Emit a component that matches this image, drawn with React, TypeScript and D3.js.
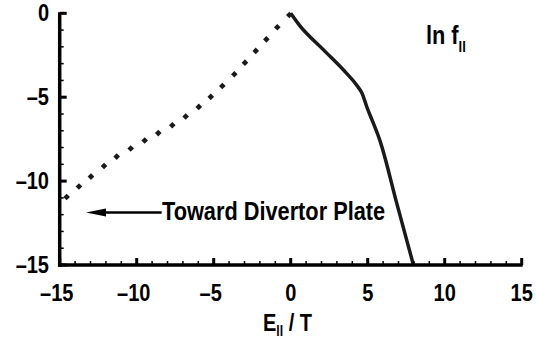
import React, { useEffect, useRef } from 'react';
import * as d3 from 'd3';

// dotted branch (toward divertor plate)
const dotX = [-14.55, -13.75, -12.97, -12.12, -11.3, -10.39, -9.48, -8.6, -7.69, -6.82, -5.97, -5.19, -4.44, -3.66, -2.97, -2.27, -1.58, -0.87, -0.09];
const dotY = [-10.95, -10.32, -9.73, -9.1, -8.54, -8.06, -7.58, -7.14, -6.67, -6.15, -5.58, -4.98, -4.33, -3.63, -2.94, -2.24, -1.55, -0.83, -0.1];

// solid branch
const lineX = [0, 0.6, 2.1, 3.6, 4.3, 4.65, 4.95, 5.3, 5.8, 6.88, 7.97];
const lineY = [0, -0.75, -2.15, -3.55, -4.3, -4.8, -5.6, -6.4, -7.6, -11.3, -15];

const xTicks = [-15, -10, -5, 0, 5, 10, 15];
const yTicks = [0, -5, -10, -15];

const font = '"Liberation Sans", Arial, sans-serif';
const squeeze = 0.87;

export default function App() {
  const ref = useRef<SVGSVGElement>(null);

  useEffect(() => {
    const svg = d3.select(ref.current);
    svg.selectAll('*').remove();

    const x = d3.scaleLinear().domain([-15, 15]).range([59.7, 521.7]);
    const y = d3.scaleLinear().domain([-15, 0]).range([265, 13.3]);

    // narrow bold text: no condensed face installed, so squeeze horizontally
    const label = (px: number, py: number, size: number, anchor = 'start') =>
      svg.append('text')
        .attr('transform', `translate(${px},${py}) scale(${squeeze},1)`)
        .attr('text-anchor', anchor)
        .attr('font-family', font)
        .attr('font-weight', 'bold')
        .attr('font-size', size);

    const g = svg.append('g');

    // dotted curve as diamonds
    const dots = dotX.map((d, i) => [d, dotY[i]]);
    g.selectAll('.dot')
      .data(dots)
      .join('path')
      .attr('class', 'dot')
      .attr('d', d3.symbol(d3.symbolSquare, 22)())
      .attr('transform', d => `translate(${x(d[0])},${y(d[1])}) rotate(45)`)
      .attr('fill', '#1a1a1a');

    // solid curve
    const pts = lineX.map((d, i) => [d, lineY[i]] as [number, number]);
    g.append('path')
      .datum(pts)
      .attr('d', d3.line<[number, number]>().x(d => x(d[0])).y(d => y(d[1])).curve(d3.curveMonotoneX))
      .attr('fill', 'none')
      .attr('stroke', '#1a1a1a')
      .attr('stroke-width', 3.5)
      .attr('stroke-linejoin', 'round');

    // axes
    const axes = svg.append('g');
    axes.append('line')
      .attr('x1', x(-15)).attr('x2', x(-15))
      .attr('y1', y(0) - 1).attr('y2', y(-15) + 1.75)
      .attr('stroke', '#000').attr('stroke-width', 3.5);
    axes.append('line')
      .attr('x1', x(-15) - 1.75).attr('x2', x(15) + 1)
      .attr('y1', y(-15)).attr('y2', y(-15))
      .attr('stroke', '#000').attr('stroke-width', 3.5);

    axes.selectAll('.ytick')
      .data(d3.range(-15, 1, 1))
      .join('line')
      .attr('x1', x(-15))
      .attr('x2', d => x(-15) + (d % 5 === 0 ? 7 : 4))
      .attr('y1', d => y(d)).attr('y2', d => y(d))
      .attr('stroke', '#000')
      .attr('stroke-width', d => (d % 5 === 0 ? 3 : 1.5));

    axes.selectAll('.xtick')
      .data(d3.range(-15, 16, 1))
      .join('line')
      .attr('y1', y(-15))
      .attr('y2', d => y(-15) - (d % 5 === 0 ? 7 : 4))
      .attr('x1', d => x(d)).attr('x2', d => x(d))
      .attr('stroke', '#000')
      .attr('stroke-width', d => (d % 5 === 0 ? 3 : 1.5));

    const fmt = (d: number) => (d < 0 ? '\u2013' + Math.abs(d) : String(d));

    yTicks.forEach(d => label(49, y(d) + 8, 23, 'end').text(fmt(d)));
    xTicks.forEach(d => label(x(d) - (d < 0 ? 3 : 0), 301, 23, 'middle').text(fmt(d)));

    // axis title
    const xt = label(263, 331, 23);
    xt.append('tspan').text('E');
    xt.append('tspan').attr('font-size', 14).attr('dy', 5).text('ll');
    xt.append('tspan').attr('dy', -5).text(' / T');

    // ln f label
    const lt = label(426, 43.5, 25);
    lt.append('tspan').text('ln  f');
    lt.append('tspan').attr('font-size', 15).attr('dy', 8).text('ll');

    // annotation
    svg.append('line')
      .attr('x1', 161.7).attr('x2', 100)
      .attr('y1', 212.5).attr('y2', 212.5)
      .attr('stroke', '#000').attr('stroke-width', 2.7);
    svg.append('path')
      .attr('d', 'M86,212.5 L106,208.6 L106,216.4 Z')
      .attr('fill', '#000');
    label(162, 220, 25).text('Toward Divertor Plate');
  }, []);

  return (
    <svg
      ref={ref}
      width={536}
      height={345}
      style={{ position: 'absolute', left: 0, top: 0, background: '#fff' }}
    />
  );
}
